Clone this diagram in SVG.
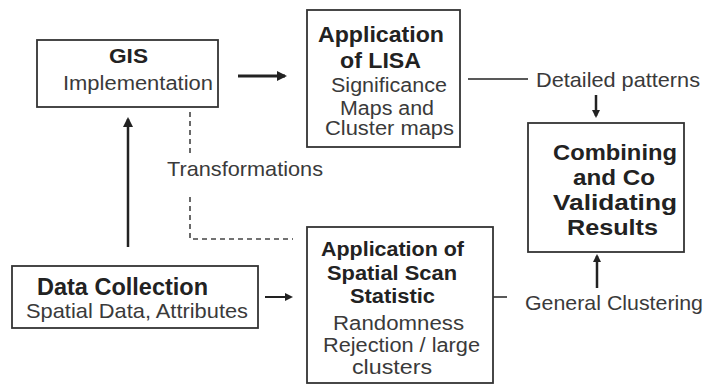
<svg xmlns="http://www.w3.org/2000/svg" width="709" height="384" viewBox="0 0 709 384">
<style>
.box{fill:#fff;stroke:#333;stroke-width:1.8}
.b{font-family:"Liberation Sans",Arial,sans-serif;font-weight:bold;fill:#222}
.r{font-family:"Liberation Sans",Arial,sans-serif;fill:#3a3a3a}
.ln{stroke:#222;fill:none}
.dash{stroke:#444;stroke-width:1.6;stroke-dasharray:5 4;fill:none}
</style>
<defs>
<marker id="ah" markerUnits="userSpaceOnUse" markerWidth="12" markerHeight="12" refX="8" refY="5" orient="auto">
<path d="M0,0 L10,5 L0,10 z" fill="#222"/>
</marker>
<marker id="ahs" markerUnits="userSpaceOnUse" markerWidth="10" markerHeight="10" refX="6" refY="4" orient="auto">
<path d="M0,0 L8,4 L0,8 z" fill="#222"/>
</marker>
</defs>
<rect width="709" height="384" fill="#fff"/>
<g id="connectors">
<line class="ln" x1="238" y1="76" x2="285" y2="76" stroke-width="3" marker-end="url(#ah)"/>
<line class="ln" x1="128" y1="247" x2="128" y2="119" stroke-width="2.5" marker-end="url(#ah)"/>
<line class="ln" x1="265" y1="297" x2="291" y2="297" stroke-width="2" marker-end="url(#ahs)"/>
<line class="ln" x1="468" y1="79" x2="528" y2="79" stroke-width="1.5"/>
<line class="ln" x1="596" y1="95" x2="596" y2="116" stroke-width="2.5" marker-end="url(#ahs)"/>
<line class="ln" x1="493" y1="297" x2="507" y2="297" stroke-width="1.5"/>
<line class="ln" x1="597" y1="288" x2="597" y2="256" stroke-width="2.5" marker-end="url(#ahs)"/>
<path class="dash" d="M190,112 L190,154"/>
<path class="dash" d="M190,197 L190,239 L293,239"/>
<text class="r" x="167" y="176" font-size="21" textLength="156" lengthAdjust="spacingAndGlyphs">Transformations</text>
<text class="r" x="536" y="87" font-size="21" textLength="164" lengthAdjust="spacingAndGlyphs">Detailed patterns</text>
<text class="r" x="525" y="310" font-size="21" textLength="178" lengthAdjust="spacingAndGlyphs">General Clustering</text>
</g>
<g id="gis">
<rect class="box" x="37" y="40" width="181" height="67"/>
<text class="b" x="109" y="63" font-size="20" textLength="39" lengthAdjust="spacingAndGlyphs">GIS</text>
<text class="r" x="63" y="90" font-size="20" textLength="150" lengthAdjust="spacingAndGlyphs">Implementation</text>
</g>
<g id="lisa">
<rect class="box" x="307" y="10" width="153" height="137"/>
<text class="b" x="318" y="42" font-size="22" textLength="126" lengthAdjust="spacingAndGlyphs">Application</text>
<text class="b" x="340" y="68" font-size="22" textLength="81" lengthAdjust="spacingAndGlyphs">of LISA</text>
<text class="r" x="331" y="92" font-size="20" textLength="116" lengthAdjust="spacingAndGlyphs">Significance</text>
<text class="r" x="340" y="115" font-size="20" textLength="94" lengthAdjust="spacingAndGlyphs">Maps and</text>
<text class="r" x="325" y="135" font-size="20" textLength="129" lengthAdjust="spacingAndGlyphs">Cluster maps</text>
</g>
<g id="combining">
<rect class="box" x="528" y="123" width="156" height="129"/>
<text class="b" x="553" y="160" font-size="22" textLength="124" lengthAdjust="spacingAndGlyphs">Combining</text>
<text class="b" x="573" y="185" font-size="22" textLength="82" lengthAdjust="spacingAndGlyphs">and Co</text>
<text class="b" x="553" y="210" font-size="22" textLength="124" lengthAdjust="spacingAndGlyphs">Validating</text>
<text class="b" x="567" y="235" font-size="22" textLength="91" lengthAdjust="spacingAndGlyphs">Results</text>
</g>
<g id="data">
<rect class="box" x="12" y="266" width="246" height="62"/>
<text class="b" x="37" y="295" font-size="23" textLength="171" lengthAdjust="spacingAndGlyphs">Data Collection</text>
<text class="r" x="26" y="318" font-size="21" textLength="222" lengthAdjust="spacingAndGlyphs">Spatial Data, Attributes</text>
</g>
<g id="scan">
<rect class="box" x="307" y="227" width="186" height="156"/>
<text class="b" x="321" y="256" font-size="20" textLength="143" lengthAdjust="spacingAndGlyphs">Application of</text>
<text class="b" x="327" y="280" font-size="20" textLength="130" lengthAdjust="spacingAndGlyphs">Spatial Scan</text>
<text class="b" x="350" y="303" font-size="20" textLength="85" lengthAdjust="spacingAndGlyphs">Statistic</text>
<text class="r" x="333" y="330" font-size="20" textLength="131" lengthAdjust="spacingAndGlyphs">Randomness</text>
<text class="r" x="323" y="352" font-size="20" textLength="157" lengthAdjust="spacingAndGlyphs">Rejection / large</text>
<text class="r" x="352" y="374" font-size="20" textLength="80" lengthAdjust="spacingAndGlyphs">clusters</text>
</g>
</svg>
